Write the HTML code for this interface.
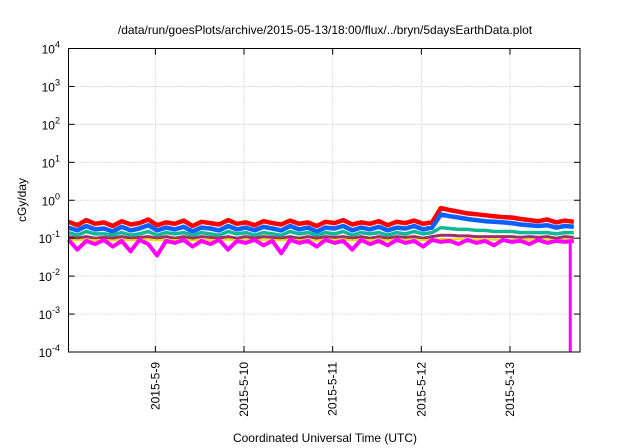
<!DOCTYPE html>
<html><head><meta charset="utf-8"><style>
html,body{margin:0;padding:0;background:#fff;}
svg{display:block;font-family:"Liberation Sans",sans-serif;}
</style></head><body>
<svg id="chart" width="640" height="448" viewBox="0 0 640 448">
<rect width="640" height="448" fill="#fff"/>
<text x="325" y="34" font-size="12" text-anchor="middle" fill="#000">/data/run/goesPlots/archive/2015-05-13/18:00/flux/../bryn/5daysEarthData.plot</text>
<text transform="translate(26,200) rotate(-90)" font-size="12" text-anchor="middle">cGy/day</text>
<text x="325" y="442" font-size="12" text-anchor="middle">Coordinated Universal Time (UTC)</text>
<g id="grid"></g><g id="series"></g><g id="axes"></g>
</svg>
<script>
const xTickDays=[9,10,11,12,13];
const xTickLabels=["2015-5-9","2015-5-10","2015-5-11","2015-5-12","2015-5-13"];
const yTickExps=[-4,-3,-2,-1,0,1,2,3,4];
const t0=8.02, dt=0.1;
const red=[0.27,0.22,0.30,0.24,0.26,0.21,0.28,0.23,0.25,0.31,0.22,0.26,0.24,0.29,0.21,0.27,0.25,0.23,0.30,0.24,0.26,0.22,0.28,0.25,0.23,0.29,0.24,0.26,0.21,0.27,0.25,0.30,0.23,0.26,0.24,0.28,0.22,0.27,0.25,0.29,0.24,0.26,0.62,0.55,0.50,0.45,0.43,0.40,0.38,0.36,0.35,0.32,0.30,0.28,0.31,0.26,0.29,0.27];
const blue=[0.19,0.16,0.21,0.17,0.18,0.15,0.20,0.16,0.18,0.22,0.16,0.19,0.17,0.20,0.15,0.19,0.18,0.16,0.21,0.17,0.19,0.16,0.20,0.18,0.16,0.21,0.17,0.19,0.15,0.19,0.18,0.21,0.16,0.19,0.17,0.20,0.16,0.19,0.18,0.21,0.17,0.19,0.42,0.38,0.35,0.32,0.30,0.28,0.27,0.26,0.25,0.23,0.22,0.21,0.22,0.19,0.21,0.20];
const teal=[0.14,0.12,0.15,0.13,0.13,0.12,0.14,0.12,0.13,0.15,0.12,0.14,0.13,0.14,0.12,0.14,0.13,0.12,0.15,0.13,0.14,0.12,0.14,0.13,0.12,0.15,0.13,0.14,0.12,0.14,0.13,0.15,0.12,0.14,0.13,0.14,0.12,0.14,0.13,0.15,0.13,0.14,0.19,0.18,0.17,0.17,0.16,0.16,0.15,0.15,0.15,0.14,0.14,0.14,0.14,0.13,0.14,0.14];
const maroon=[0.11,0.10,0.11,0.10,0.105,0.10,0.11,0.10,0.105,0.11,0.10,0.11,0.10,0.11,0.10,0.11,0.105,0.10,0.11,0.10,0.11,0.10,0.11,0.105,0.10,0.11,0.10,0.11,0.10,0.11,0.105,0.11,0.10,0.11,0.10,0.11,0.10,0.11,0.105,0.11,0.10,0.11,0.12,0.12,0.115,0.115,0.11,0.11,0.11,0.11,0.11,0.105,0.11,0.105,0.11,0.10,0.11,0.105];
const yellow=[0.09,0.088,0.092,0.089,0.09,0.087,0.091,0.089,0.09,0.092,0.088,0.09,0.089,0.091,0.087,0.09,0.089,0.088,0.092,0.089,0.09,0.088,0.091,0.09,0.088,0.092,0.089,0.09,0.087,0.09,0.089,0.092,0.088,0.09,0.089,0.091,0.088,0.09,0.089,0.092,0.089,0.09,0.095,0.094,0.093,0.092,0.092,0.091,0.091,0.09,0.09,0.09,0.09,0.089,0.09,0.088,0.09,0.089];
const magenta=[0.09,0.05,0.085,0.07,0.09,0.06,0.085,0.045,0.09,0.07,0.035,0.085,0.075,0.09,0.06,0.085,0.07,0.09,0.05,0.085,0.075,0.09,0.065,0.085,0.04,0.09,0.075,0.085,0.06,0.09,0.075,0.085,0.05,0.09,0.07,0.085,0.065,0.09,0.075,0.085,0.06,0.09,0.08,0.085,0.07,0.09,0.075,0.085,0.065,0.09,0.08,0.085,0.07,0.09,0.075,0.085,0.08,0.085];
const magentaDropDay=[13.68];
const magentaDropValue=[0.0001];
const L=68.5,R=580,T=48.5,B=352;
const x=d=>L+(d-8.02)*(R-L)/(13.79-8.02);
const y=v=>B-(Math.log10(v)+4)*(B-T)/8;
const NS="http://www.w3.org/2000/svg";
function mk(tag,parent,attrs){const e=document.createElementNS(NS,tag);for(const k in attrs)e.setAttribute(k,attrs[k]);parent.appendChild(e);return e;}
const grid=document.getElementById('grid'),axes=document.getElementById('axes'),ser=document.getElementById('series');
yTickExps.forEach(e=>{const yy=y(Math.pow(10,e));
 if(e>-4&&e<4){const g=mk('line',grid,{x1:L,x2:R,y1:yy,y2:yy,stroke:'#bbb','stroke-dasharray':'1,2','stroke-width':1});
 
 }
 const tl=mk('line',axes,{x1:L,x2:L+6,y1:yy,y2:yy,stroke:'#000'});
 
 
 const tr=mk('line',axes,{x1:R-6,x2:R,y1:yy,y2:yy,stroke:'#000'});
 
 
 const t=mk('text',axes,{x:60,y:yy+5,'font-size':12,'text-anchor':'end'});
 
 
 t.innerHTML='10<tspan dy="-6" font-size="9">'+e+'</tspan>';
});
xTickDays.forEach((d,i)=>{const xx=x(d);
 const g=mk('line',grid,{x1:xx,x2:xx,y1:T,y2:B,stroke:'#bbb','stroke-dasharray':'1,2','stroke-width':1});
 
 
 const tb=mk('line',axes,{x1:xx,x2:xx,y1:B-6,y2:B,stroke:'#000'});
 
 
 const tt=mk('line',axes,{x1:xx,x2:xx,y1:T,y2:T+6,stroke:'#000'});
 
 
 const t=mk('text',axes,{transform:`translate(${xx+4},362) rotate(-90)`,'font-size':12,'text-anchor':'end'});
 
 
 t.textContent=xTickLabels[i];
});
const fr=mk('rect',axes,{x:L,y:T,width:R-L,height:B-T,fill:'none',stroke:'#000','stroke-width':1});


const seriesList=[[red,'#ff0000','series-red',4.5],[blue,'#0a60ff','series-blue',4.5],[teal,'#10b898','series-teal',3.5],[maroon,'#a03060','series-maroon',3],[yellow,'#e8e000','series-yellow',2],[magenta,'#ff00ff','series-magenta',4]];
seriesList.forEach(([vals,col,name,w])=>{
 const pts=vals.map((v,i)=>x(t0+i*dt).toFixed(1)+','+Math.min(B,y(v)).toFixed(1)).join(' ');
 const p=mk('polyline',ser,{points:pts,fill:'none',stroke:col,'stroke-width':w,'stroke-linejoin':'round'});
 
 
});
magentaDropDay.forEach((d,i)=>{
 const l=mk('line',ser,{x1:x(d),x2:x(d),y1:y(0.08),y2:Math.min(B,y(magentaDropValue[i])),stroke:'#ff00ff','stroke-width':3});
 
 
});
</script>
</body></html>
